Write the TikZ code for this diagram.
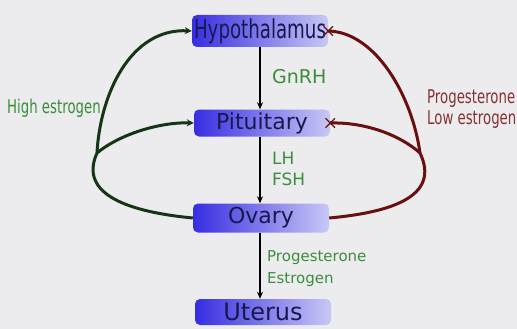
\documentclass[tikz,border=0pt]{standalone}
\usepackage{fontspec}
\setmainfont{DejaVu Sans}
\newfontfamily\narrowfont[FakeStretch=0.7]{DejaVu Sans}
\usetikzlibrary{arrows.meta,shapes.misc}
\definecolor{bgc}{RGB}{236,236,238}
\definecolor{boxtext}{RGB}{24,24,80}
\definecolor{boxdark}{RGB}{55,45,225}
\definecolor{boxlight}{RGB}{200,200,245}
\definecolor{lblgreen}{RGB}{60,140,60}
\definecolor{curvegreen}{RGB}{22,52,22}
\definecolor{curvered}{RGB}{105,15,15}
\definecolor{lblred}{RGB}{135,50,50}
\tikzset{
  organ/.style={rounded corners=5pt, minimum width=136pt, inner sep=0pt,
    left color=boxdark, right color=boxlight, text=boxtext, font=\fontsize{22}{24}\selectfont},
  mainarrow/.style={-{Stealth[length=7pt,width=6pt]}, line width=1.4pt, black},
  greenline/.style={line width=3pt, curvegreen},
  greenarrow/.style={greenline, -{Stealth[length=7pt,width=7pt]}},
  redline/.style={line width=3pt, curvered},
  xmark/.style={cross out, draw=curvered, line width=1.3pt, minimum size=8pt, inner sep=0pt},
  glabel/.style={text=lblgreen, align=left, inner sep=0pt},
  rlabel/.style={text=lblred, align=left, inner sep=0pt}
}
\begin{document}
\begin{tikzpicture}[x=1pt,y=-1pt]
\fill[bgc] (0,0) rectangle (517,329);
\useasboundingbox (0,0) rectangle (517,329);
\node[organ, minimum height=32pt] (hyp) at (260,31) {\narrowfont\fontsize{26}{28}\selectfont Hypothalamus};
\node[organ, minimum height=27pt] (pit) at (262,123) {Pituitary};
\node[organ, minimum height=29pt] (ova) at (261,218) {Ovary};
\node[organ, minimum height=26pt] (ute) at (263,312) {\fontsize{24}{26}\selectfont Uterus};

\draw[mainarrow] (hyp.south -| 260,0) -- (pit.north -| 260,0);
\draw[mainarrow] (pit.south -| 260,0) -- (ova.north -| 260,0);
\draw[mainarrow] (ova.south -| 260,0) -- (ute.north -| 260,0);

\node[glabel, font=\fontsize{19}{21}\selectfont, anchor=west] (gnrh) at (272,77) {GnRH};
\node[glabel, font=\fontsize{17}{21}\selectfont, anchor=north west] (lhfsh) at (272,152) {LH\\FSH};
\node[glabel, font=\fontsize{15}{22}\selectfont, anchor=north west] (pe) at (267,250) {Progesterone\\Estrogen};
\node[glabel, font=\narrowfont\fontsize{19}{21}\selectfont, anchor=west] (hi) at (7,108) {High estrogen};
\node[rlabel, font=\narrowfont\fontsize{19}{21}\selectfont, anchor=north west] (pl) at (427,89) {Progesterone\\Low estrogen};

% green feedback
\coordinate (gj) at (97,153);
\draw[greenline] (ova.west) .. controls (130,212) and (78,195) .. (gj);
\draw[greenarrow] (gj) .. controls (100,95) and (130,28) .. (hyp.west);
\draw[greenarrow] (gj) .. controls (120,134) and (160,122) .. (pit.west);

% red feedback
\coordinate (rj) at (420,153);
\draw[redline] (ova.east) .. controls (395,212) and (440,195) .. (rj);
\draw[redline] (rj) .. controls (412,95) and (375,32) .. (hyp.east);
\draw[redline] (rj) .. controls (400,135) and (365,122) .. (pit.east);
\node[xmark] (x1) at (hyp.east) {};
\node[xmark] (x2) at (pit.east) {};
\end{tikzpicture}
\end{document}
